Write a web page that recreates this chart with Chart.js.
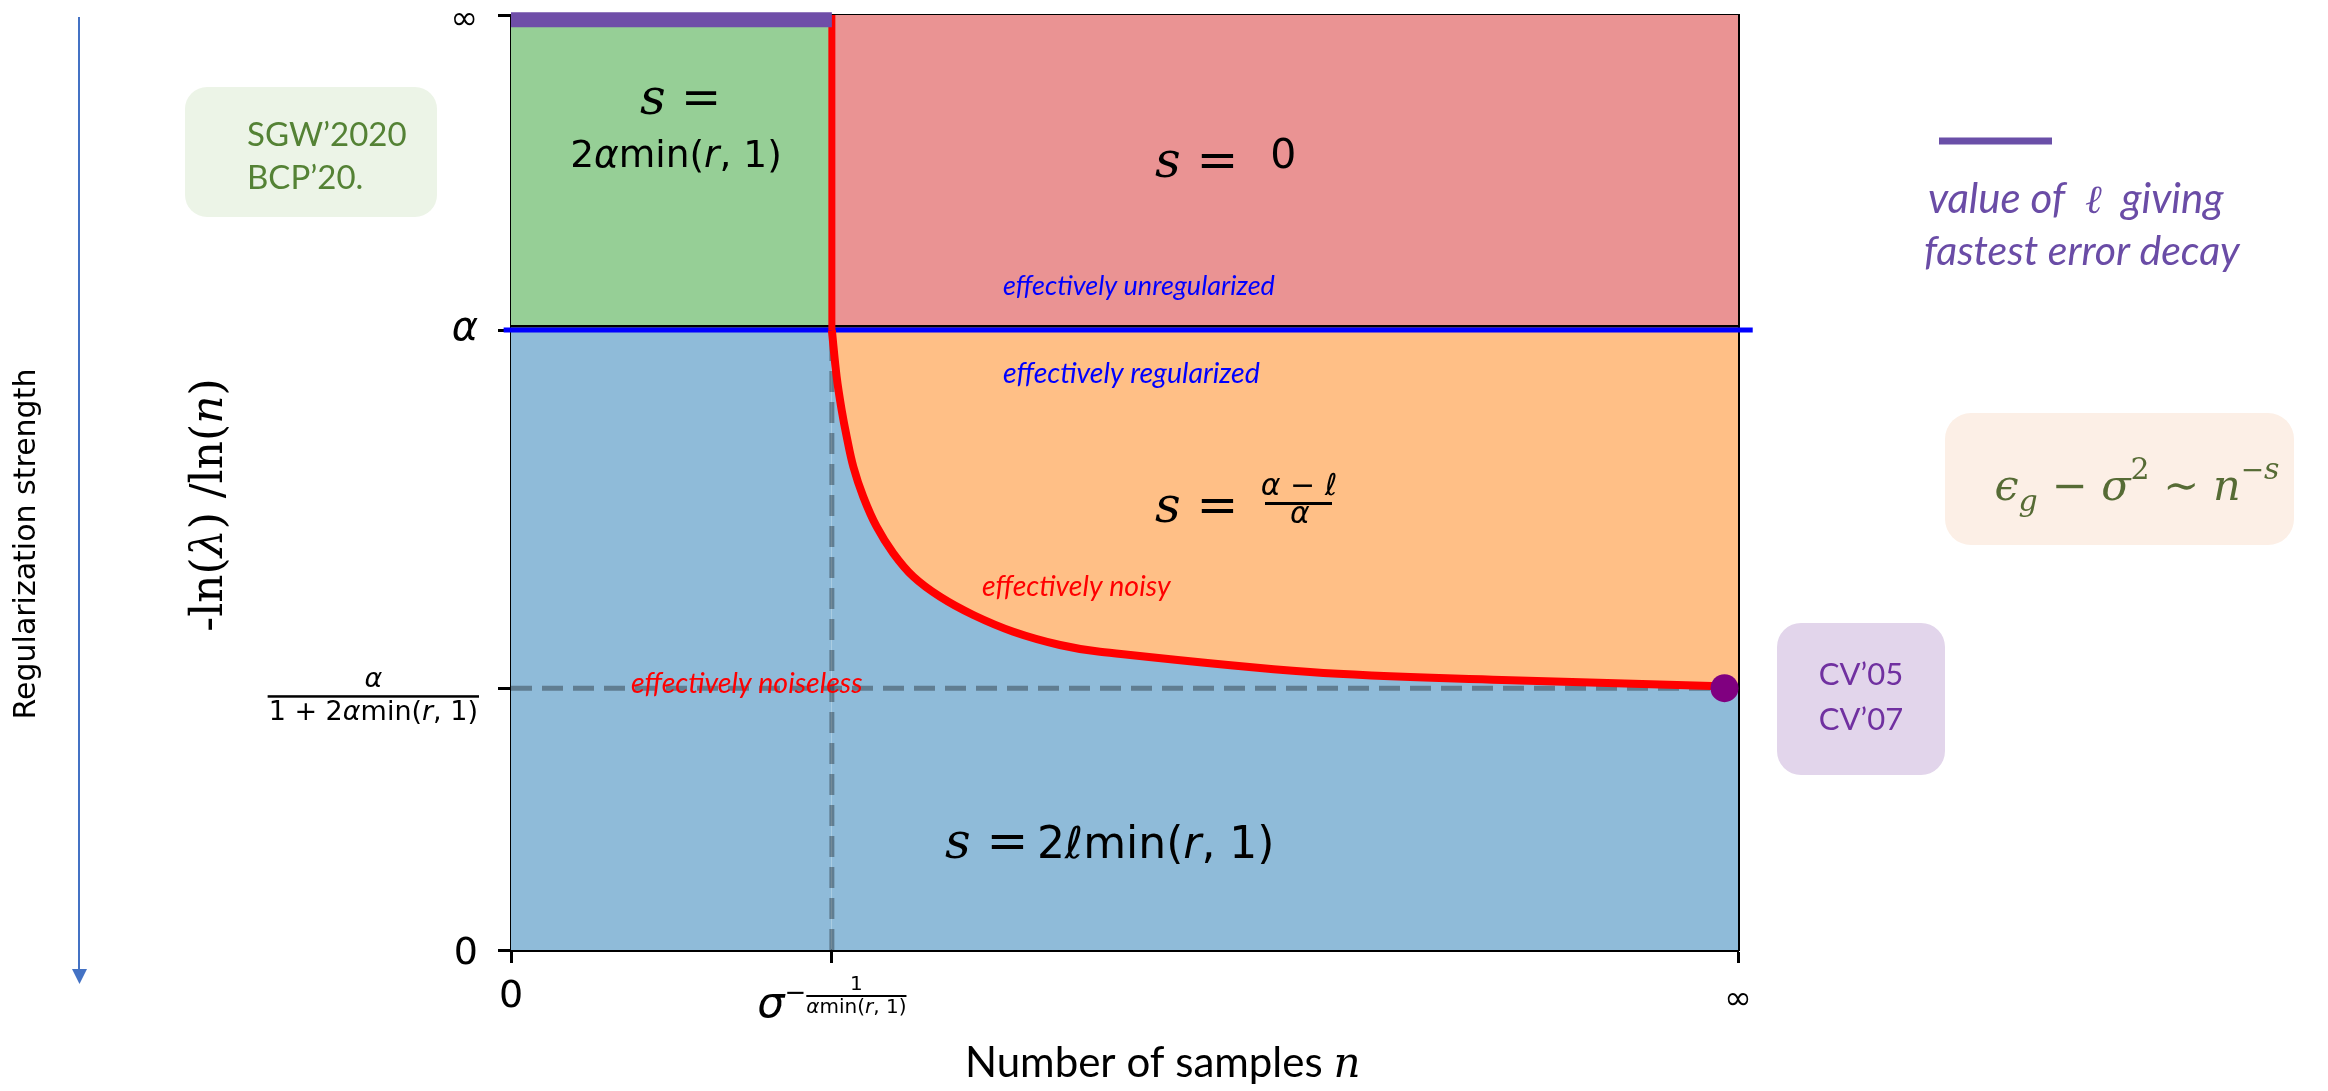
<!DOCTYPE html>
<html>
<head>
<meta charset="utf-8">
<script src="https://cdn.jsdelivr.net/npm/chart.js@4.4.1/dist/chart.umd.min.js"></script>
<style>
  html, body { margin: 0; padding: 0; background: #fff; }
  #wrap { width: 2328px; height: 1091px; position: relative; }
</style>
</head>
<body>
<div id="wrap"><canvas id="phase"></canvas></div>
<script>
// axes: x = number of samples n (0 .. ∞), y = -ln(λ)/ln(n) (0 .. ∞)
const xTicks = [0, 0.2615, 1];
const xTickLabels = ['0', ['σ', '1', 'αmin(r, 1)'], '∞'];
const yTicks = [0, 0.28, 0.663, 1];
const yTickLabels = ['0', ['α', '1 + 2αmin(r, 1)'], 'α', '∞'];

// phase boundaries
const sigmaN = 0.2615;       // n = σ^(-1/(α min(r,1)))
const alphaLevel = 0.663;    // ℓ = α
const upperEdge = 0.667;     // bottom spine of the upper panel
const noiselessLevel = 0.28; // ℓ = α / (1 + 2α min(r,1))
const bestEll = 0.995;       // bar along the top: best ℓ
const dotN = 0.989;

// noisy / noiseless crossover
const curveN = [0.2615, 0.2654, 0.2695, 0.2736, 0.2790, 0.2871, 0.2980, 0.3116, 0.3279, 0.3496,
                0.3768, 0.4094, 0.4474, 0.4800, 0.6512, 0.8077, 0.9788, 0.9890];
const curveL = [0.663, 0.6132, 0.5775, 0.5490, 0.5169, 0.4848, 0.4527, 0.4243, 0.3993, 0.3779,
                0.3583, 0.3404, 0.3262, 0.3190, 0.2973, 0.2888, 0.2824, 0.2800];

const pts = (xs, ys) => xs.map((x, i) => ({x: x, y: ys[i]}));
const curve = pts(curveN, curveL);

const ITALIC = 'ασℓλr';
function mathRuns(str, px, fam) {
    fam = fam || '"DejaVu Sans"';
    const out = [];
    for (const ch of str) {
        const f = (ITALIC.includes(ch) ? 'italic ' : '') + px + 'px ' + fam;
        if (out.length && out[out.length - 1][1] === f) out[out.length - 1][0] += ch;
        else out.push([ch, f]);
    }
    return out;
}
function runsWidth(ctx, runs) {
    let w = 0;
    runs.forEach(r => { ctx.font = r[1]; w += ctx.measureText(r[0]).width; });
    return w;
}
function drawRuns(ctx, runs, x, y, align) {
    const w = runsWidth(ctx, runs);
    let cx = align === 'center' ? x - w / 2 : align === 'right' ? x - w : x;
    runs.forEach(r => {
        ctx.font = r[1];
        ctx.fillText(r[0], cx, y + (r[2] || 0));
        cx += ctx.measureText(r[0]).width;
    });
    return w;
}
function box(ctx, x, y, w, h, r, color) {
    ctx.fillStyle = color;
    ctx.beginPath();
    ctx.roundRect(x, y, w, h, r);
    ctx.fill();
}

const SERIF = '"DejaVu Serif"';
const sIt = px => 'italic ' + px + 'px ' + SERIF;
const sUp = px => px + 'px ' + SERIF;

const labelPlugin = {
    id: 'phaseLabels',
    afterDraw(chart) {
        const {ctx, chartArea: area, scales} = chart;
        ctx.save();
        ctx.textAlign = 'left';
        ctx.textBaseline = 'alphabetic';
        ctx.fillStyle = '#000';

        // y tick labels
        yTicks.forEach((v, i) => {
            const py = scales.y.getPixelForValue(v);
            const lab = yTickLabels[i];
            const right = area.left - 33;
            if (Array.isArray(lab)) {
                const numR = mathRuns(lab[0], 27), denR = mathRuns(lab[1], 27);
                const w = runsWidth(ctx, denR);
                const cx = right - w / 2;
                drawRuns(ctx, numR, cx, py - 1, 'center');
                ctx.fillRect(cx - w / 2 - 1, py + 7, w + 2, 2.5);
                drawRuns(ctx, denR, cx, py + 32, 'center');
            } else if (lab === '∞') {
                drawRuns(ctx, [[lab, '33px "DejaVu Sans"']], right, py + 14, 'right');
            } else if (lab === 'α') {
                drawRuns(ctx, mathRuns(lab, 40), right, py + 10, 'right');
            } else {
                drawRuns(ctx, mathRuns(lab, 38), right, py + 14, 'right');
            }
        });

        // x tick labels
        xTicks.forEach((v, i) => {
            const px = scales.x.getPixelForValue(v);
            const lab = xTickLabels[i];
            const top = area.bottom;
            if (Array.isArray(lab)) {
                const base = mathRuns(lab[0], 43);
                const minus = [['−', '26px "DejaVu Sans"']];
                const numR = mathRuns(lab[1], 20), denR = mathRuns(lab[2], 20);
                const wb = runsWidth(ctx, base), wm = runsWidth(ctx, minus), wf = runsWidth(ctx, denR);
                const x0 = px - (wb + wm + wf) / 2;
                drawRuns(ctx, base, x0, top + 67, 'left');
                drawRuns(ctx, minus, x0 + wb, top + 51, 'left');
                const fx = x0 + wb + wm + wf / 2;
                drawRuns(ctx, numR, fx, top + 40, 'center');
                ctx.fillRect(fx - wf / 2, top + 45, wf, 2);
                drawRuns(ctx, denR, fx, top + 63, 'center');
            } else if (lab === '∞') {
                drawRuns(ctx, [[lab, '33px "DejaVu Sans"']], px, top + 59, 'center');
            } else {
                drawRuns(ctx, [[lab, '38px "DejaVu Sans"']], px, top + 57, 'center');
            }
        });

        // axis titles
        drawRuns(ctx, [['Number of samples ', '42px Lato'], ['n', sIt(42)]], 965, 1077, 'left');

        ctx.save();
        ctx.translate(222, 505);
        ctx.rotate(-Math.PI / 2);
        drawRuns(ctx, [['-ln(', sUp(44)], ['λ', sIt(44)], [') /ln(', sUp(44)], ['n', sIt(44)], [')', sUp(44)]], 0, 0, 'center');
        ctx.restore();

        ctx.save();
        ctx.translate(35, 544);
        ctx.rotate(-Math.PI / 2);
        drawRuns(ctx, [['Regularization strength', '30px "DejaVu Sans"']], 0, 0, 'center');
        ctx.restore();

        // arrow: direction of increasing regularization
        ctx.strokeStyle = '#4472c4';
        ctx.fillStyle = '#4472c4';
        ctx.lineWidth = 2;
        ctx.beginPath();
        ctx.moveTo(79, 17);
        ctx.lineTo(79, 972);
        ctx.stroke();
        ctx.beginPath();
        ctx.moveTo(72, 969);
        ctx.lineTo(87, 969);
        ctx.lineTo(79.5, 984);
        ctx.closePath();
        ctx.fill();

        // region formulas
        ctx.fillStyle = '#000';
        drawRuns(ctx, [['s', sIt(50)], [' =', sUp(48)]], 640, 114, 'left');
        drawRuns(ctx, mathRuns('2αmin(r, 1)', 37.5), 676, 167, 'center');

        drawRuns(ctx, [['s', sIt(50)], [' =  ', sUp(50)], ['0', '41px "DejaVu Sans"', -9]], 1155, 177, 'left');

        drawRuns(ctx, [['s', sIt(50)], [' =', sUp(50)]], 1155, 522, 'left');
        drawRuns(ctx, mathRuns('α − ℓ', 30), 1299, 495, 'center');
        ctx.fillRect(1265, 502, 67, 3);
        drawRuns(ctx, mathRuns('α', 30), 1300, 523, 'center');

        drawRuns(ctx, [['s', sIt(50)], [' = ', sUp(50)]], 945, 858, 'left');
        drawRuns(ctx, mathRuns('2ℓmin(r, 1)', 44), 1037, 858, 'left');

        // regime names
        ctx.fillStyle = '#0000ff';
        drawRuns(ctx, [['effectively unregularized', 'italic 27px Lato']], 1003, 295, 'left');
        drawRuns(ctx, [['effectively regularized', 'italic 28.5px Lato']], 1003, 383, 'left');
        ctx.fillStyle = '#ff0000';
        drawRuns(ctx, [['effectively noisy', 'italic 28.5px Lato']], 982, 596, 'left');
        drawRuns(ctx, [['effectively noiseless', 'italic 28.5px Lato']], 631, 693, 'left');

        // references
        box(ctx, 185, 87, 252, 130, 22, '#ecf4e7');
        ctx.fillStyle = '#548235';
        drawRuns(ctx, [['SGW’2020', '33px Lato']], 247, 146, 'left');
        drawRuns(ctx, [['BCP’20.', '33px Lato']], 247, 189, 'left');

        box(ctx, 1777, 623, 168, 152, 24, '#e2d5eb');
        ctx.fillStyle = '#7030a0';
        drawRuns(ctx, [['CV’05', '31px Lato']], 1861, 685, 'center');
        drawRuns(ctx, [['CV’07', '31px Lato']], 1861, 730, 'center');

        // error rate
        box(ctx, 1945, 413, 349, 132, 26, '#fcefe6');
        ctx.fillStyle = '#566b35';
        drawRuns(ctx, [
            ['ϵ', sIt(43)], ['g', sIt(30), 11], [' − ', sUp(43)], ['σ', sIt(43)], ['2', sUp(30), -21],
            [' ∼ ', sUp(43)], ['n', sIt(43)], ['−', sUp(28), -21], ['s', sIt(30), -21]
        ], 2137, 500, 'center');

        // legend for the top bar
        ctx.strokeStyle = '#6a4fa8';
        ctx.lineWidth = 7;
        ctx.beginPath();
        ctx.moveTo(1939, 141);
        ctx.lineTo(2052, 141);
        ctx.stroke();
        ctx.fillStyle = '#6a4ca6';
        drawRuns(ctx, [['value of  ', 'italic 42px Lato'], ['ℓ', sIt(40)], ['  giving', 'italic 42px Lato']], 1928, 213, 'left');
        drawRuns(ctx, [['fastest error decay', 'italic 41px Lato']], 1924, 265, 'left');

        ctx.restore();
    }
};

const flat = {pointRadius: 0, borderWidth: 0, tension: 0};

new Chart(document.getElementById('phase'), {
    type: 'line',
    data: {
        datasets: [
            // fills, bottom to top
            {...flat, order: 20, data: pts([sigmaN, 1], [alphaLevel, alphaLevel]), fill: 'origin', backgroundColor: '#ffbf86'},
            {...flat, order: 19, data: pts([0, sigmaN], [alphaLevel, alphaLevel]), fill: 'origin', backgroundColor: '#8fbbd9'},
            {...flat, order: 18, data: curve.concat([{x: 1, y: noiselessLevel}]), fill: 'origin',
                backgroundColor: '#8fbbd9', tension: 0.35},
            {...flat, order: 17, data: pts([0, sigmaN], [1, 1]), fill: {value: alphaLevel}, backgroundColor: '#96cf96'},
            {...flat, order: 17, data: pts([sigmaN, 1], [1, 1]), fill: {value: alphaLevel}, backgroundColor: '#ea9393'},
            // guides
            {...flat, order: 10, data: pts([0, dotN], [noiselessLevel, noiselessLevel]), fill: false,
                borderWidth: 5, borderColor: 'rgba(0,0,0,0.33)', borderDash: [21, 10]},
            {...flat, order: 10, data: pts([sigmaN, sigmaN], [0, alphaLevel]), fill: false,
                borderWidth: 5, borderColor: 'rgba(0,0,0,0.33)', borderDash: [21, 10]},
            {...flat, order: 8, data: pts([0, 1], [upperEdge, upperEdge]), fill: false, borderWidth: 2.5, borderColor: '#000'},
            {...flat, order: 6, data: pts([-0.006, 1.012], [alphaLevel, alphaLevel]), fill: false,
                borderWidth: 5, borderColor: '#0000ff', clip: false},
            {...flat, order: 5, data: pts([sigmaN, sigmaN], [1, alphaLevel]), fill: false,
                borderWidth: 7, borderColor: '#ff0000', clip: false},
            {...flat, order: 4, data: curve, fill: false, borderWidth: 8, borderColor: '#ff0000', tension: 0.35},
            {...flat, order: 3, data: pts([0, sigmaN], [bestEll, bestEll]), fill: false,
                borderWidth: 15, borderColor: '#6f4ea8', clip: false},
            {order: 1, data: [{x: dotN, y: noiselessLevel}], showLine: false, pointRadius: 14,
                pointBackgroundColor: '#800080', pointBorderWidth: 0, clip: false}
        ]
    },
    options: {
        responsive: true,
        maintainAspectRatio: false,
        animation: false,
        devicePixelRatio: 1,
        events: [],
        layout: {padding: {top: 15, right: 590, bottom: 0, left: 0}},
        plugins: {legend: {display: false}, tooltip: {enabled: false}},
        scales: {
            x: {
                type: 'linear', position: 'bottom', min: 0, max: 1,
                afterBuildTicks: s => { s.ticks = xTicks.map(v => ({value: v})); },
                afterFit: s => { s.height = 141; },
                ticks: {display: false},
                grid: {display: true, drawOnChartArea: false, drawTicks: true, tickLength: 13, tickWidth: 3, tickColor: '#000'},
                border: {display: true, color: '#000', width: 3}
            },
            y: {
                type: 'linear', position: 'left', min: 0, max: 1,
                afterBuildTicks: s => { s.ticks = yTicks.map(v => ({value: v})); },
                afterFit: s => { s.width = 511; },
                ticks: {display: false},
                grid: {display: true, drawOnChartArea: false, drawTicks: true, tickLength: 13, tickWidth: 3, tickColor: '#000'},
                border: {display: true, color: '#000', width: 3}
            },
            xTop: {
                type: 'linear', position: 'top', min: 0, max: 1,
                afterFit: s => { s.height = 0; },
                ticks: {display: false},
                grid: {display: true, drawOnChartArea: false, drawTicks: false},
                border: {display: true, color: '#000', width: 3}
            },
            yRight: {
                type: 'linear', position: 'right', min: 0, max: 1,
                afterFit: s => { s.width = 0; },
                ticks: {display: false},
                grid: {display: true, drawOnChartArea: false, drawTicks: false},
                border: {display: true, color: '#000', width: 3}
            }
        }
    },
    plugins: [labelPlugin]
});
</script>
</body>
</html>
